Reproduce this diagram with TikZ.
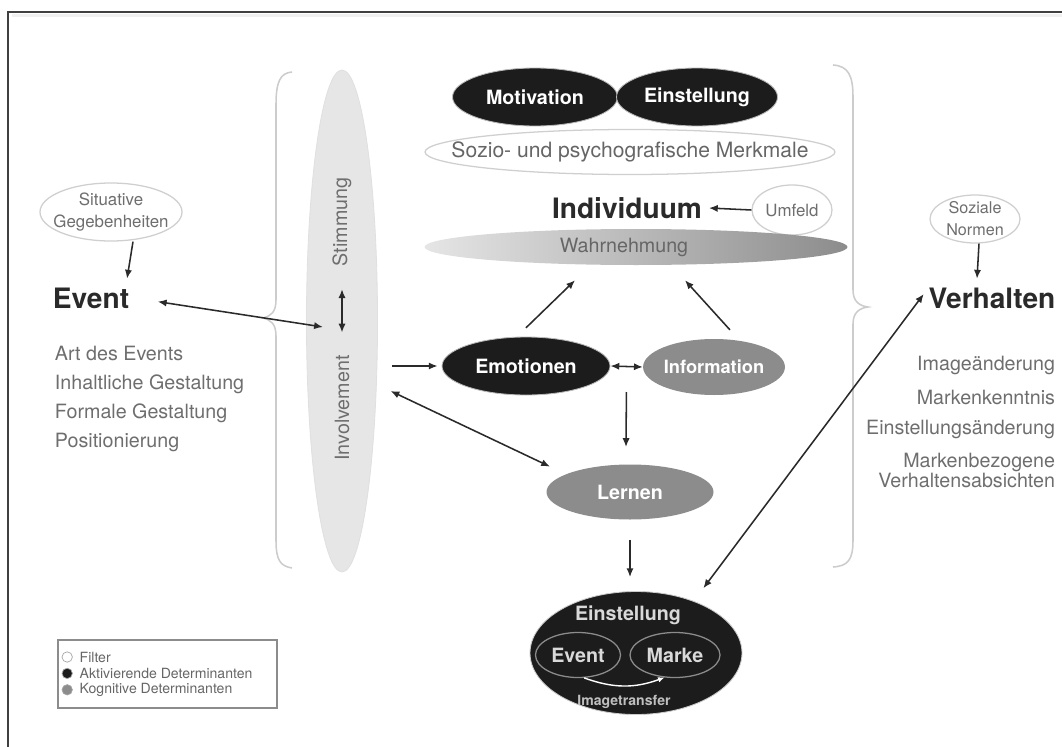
\documentclass[tikz,border=0pt]{standalone}
\usepackage{fontspec}
\setmainfont{TeX Gyre Heros}
\usepackage{tikz}
\usetikzlibrary{arrows.meta,shapes.geometric}
\definecolor{AktivBlack}{HTML}{1C1C1C}
\definecolor{KognGray}{HTML}{8C8C8C}
\definecolor{FilterLine}{HTML}{CFCFCF}
\definecolor{MoodFill}{HTML}{E6E6E6}
\definecolor{TextGray}{HTML}{6E6E6E}
\definecolor{Ink}{HTML}{2A2A2A}
\definecolor{BraceGray}{HTML}{CCCCCC}

\begin{document}
\begin{tikzpicture}[
  filter/.style={ellipse,draw=FilterLine,line width=0.9pt,fill=white,inner sep=0pt},
  aktiv/.style={ellipse,draw=gray!55,line width=0.6pt,fill=AktivBlack,text=white,inner sep=0pt,font=\fontsize{14}{16}\selectfont\bfseries},
  kogn/.style={ellipse,fill=KognGray,text=white,inner sep=0pt,font=\fontsize{14}{16}\selectfont\bfseries},
  small/.style={text=TextGray,font=\fontsize{12}{16}\selectfont,align=center},
  listtxt/.style={text=TextGray,font=\fontsize{14}{20.6}\selectfont},
  head/.style={font=\fontsize{20}{24}\selectfont\bfseries,text=Ink},
  arr/.style={-{Latex[length=2.2mm,width=1.8mm]},line width=1.1pt,draw=Ink},
  darr/.style={{Latex[length=2.2mm,width=1.8mm]}-{Latex[length=2.2mm,width=1.8mm]},line width=1.1pt,draw=Ink},
  brace/.style={draw=BraceGray,line width=1.1pt}
]
\useasboundingbox (0,0) rectangle (26.55,-18.675);

% frame
\draw[line width=2pt,black!6] (0.3,-0.38) -- (26.55,-0.38);
\draw[line width=1.3pt,black!75] (0.2,-18.675) -- (0.2,-0.3) -- (26.55,-0.3);

% braces
\draw[brace] (7.3,-1.8) .. controls (7,-1.825) and (6.9,-2.05) .. (6.9,-2.625) -- (6.9,-7.5)
  .. controls (6.9,-7.8) and (6.775,-7.9) .. (6.575,-7.95) .. controls (6.775,-8) and (6.9,-8.1) .. (6.9,-8.4)
  -- (6.9,-13.5) .. controls (6.9,-14) and (7,-14.15) .. (7.3,-14.2);
\draw[brace] (20.825,-1.625) .. controls (21.2,-1.65) and (21.325,-1.875) .. (21.325,-2.425) -- (21.325,-7.25)
  .. controls (21.325,-7.55) and (21.5,-7.65) .. (21.7,-7.675) .. controls (21.5,-7.7) and (21.325,-7.8) .. (21.325,-8.1)
  -- (21.325,-13.5) .. controls (21.325,-14) and (21.2,-14.15) .. (20.825,-14.175);

% event side
\node[filter,minimum width=3.55cm,minimum height=1.45cm,label={[small]center:Situative\\Gegebenheiten}] (situativ) at (2.775,-5.3) {};
\node[head,anchor=west] (event) at (1.2,-7.45) {Event};
\node[listtxt,align=left,anchor=west] (eventmerkmale) at (1.25,-9.975) {Art des Events\\Inhaltliche Gestaltung\\Formale Gestaltung\\Positionierung};

% mood / involvement
\node[ellipse,fill=MoodFill,draw=black!12,line width=0.6pt,minimum width=1.775cm,minimum height=12.55cm,inner sep=0pt] (mood) at (8.55,-8.025) {};
\node[rotate=90,text=TextGray,font=\fontsize{14}{16}\selectfont] (stimmung) at (8.55,-5.55) {Stimmung};
\node[rotate=90,text=TextGray,font=\fontsize{14}{16}\selectfont] (involvement) at (8.55,-10.2) {Involvement};

% individual
\node[aktiv,minimum width=4.125cm,minimum height=1.45cm] (motivation) at (13.375,-2.425) {Motivation};
\node[aktiv,minimum width=4.025cm,minimum height=1.45cm] (einstellungoben) at (17.425,-2.425) {Einstellung};
\node[filter,minimum width=10.25cm,minimum height=1.125cm,label={[text=black!60,font=\fontsize{15}{17}\selectfont]center:Sozio- und psychografische Merkmale}] (sozio) at (15.75,-3.8) {};
\node[head] (individuum) at (15.675,-5.2) {Individuum};
\node[filter,minimum width=2cm,minimum height=1.25cm,text=TextGray,font=\fontsize{12}{14}\selectfont] (umfeld) at (19.8,-5.25) {Umfeld};
\node[ellipse,left color=black!10,right color=black!45,minimum width=10.575cm,minimum height=0.9cm,inner sep=0pt,label={[xshift=-0.3cm,text=black!60,font=\fontsize{14}{16}\selectfont]center:Wahrnehmung}] (wahrnehmung) at (15.9,-6.175) {};

% processing
\node[aktiv,minimum width=4.2cm,minimum height=1.45cm] (emotionen) at (13.15,-9.15) {Emotionen};
\node[kogn,minimum width=3.45cm,minimum height=1.4cm,font=\fontsize{13}{15}\selectfont\bfseries] (information) at (17.85,-9.175) {Information};
\node[kogn,minimum width=4.175cm,minimum height=1.375cm] (lernen) at (15.75,-12.3) {Lernen};

% attitude
\node[ellipse,fill=AktivBlack,draw=gray!40,line width=0.6pt,minimum width=5.3cm,minimum height=3.075cm,inner sep=0pt] (einstellung) at (15.9,-16.325) {};
\node[text=black!15,font=\fontsize{14}{16}\selectfont\bfseries] (einstellungtxt) at (15.7,-15.375) {Einstellung};
\node[ellipse,draw=black!45,line width=0.9pt,minimum width=2.125cm,minimum height=1.125cm,inner sep=0pt,text=black!15,font=\fontsize{14}{16}\selectfont\bfseries] (eventin) at (14.45,-16.375) {Event};
\node[ellipse,draw=black!45,line width=0.9pt,minimum width=2.25cm,minimum height=1.125cm,inner sep=0pt,text=black!15,font=\fontsize{14}{16}\selectfont\bfseries] (marke) at (16.875,-16.375) {Marke};
\node[text=black!25,font=\fontsize{10}{12}\selectfont\bfseries] (imagetransfer) at (15.6,-17.55) {Imagetransfer};

% behaviour side
\node[filter,minimum width=2.25cm,minimum height=1.2cm,label={[small,font=\fontsize{11.5}{15.6}\selectfont]center:Soziale\\Normen}] (sozial) at (24.375,-5.475) {};
\node[head] (verhalten) at (24.8,-7.45) {Verhalten};
\node[listtxt,align=right,anchor=east,font=\fontsize{14}{12}\selectfont] (wirkungen) at (26.5,-10.55) {Imageänderung\\[10pt]Markenkenntnis\\[9pt]Einstellungsänderung\\[9.5pt]Markenbezogene\\Verhaltensabsichten};

% legend
\draw[draw=black!45,line width=0.8pt] (1.45,-16) rectangle (6.925,-17.7);
\foreach \farbe/\text [count=\i] in {white/Filter,AktivBlack/Aktivierende Determinanten,KognGray/Kognitive Determinanten}{
  \node[circle,fill=\farbe,draw=black!35,line width=0.5pt,minimum size=0.26cm,inner sep=0pt] (key\i) at (1.68,-16.425-0.41*\i+0.41) {};
  \node[anchor=west,text=black!60,font=\fontsize{10}{12}\selectfont,inner sep=1pt] (keytxt\i) at (1.95,-16.425-0.41*\i+0.41) {\text};
}

% connectors
\draw[arr] ([xshift=0.55cm]situativ.south) -- ([xshift=0.9cm,yshift=0.1cm]event.north);
\draw[darr,shorten <=0.6cm] (event.east) -- ([xshift=-1.375cm,yshift=-0.15cm]mood.east);
\draw[darr,shorten <=0.45cm,shorten >=0.45cm] (stimmung.west) -- (involvement.east);
\draw[arr,shorten <=0.35cm,shorten >=0.1cm] (mood.east |- emotionen.west) -- (emotionen.west);
\draw[darr,shorten <=0.35cm] ([yshift=-1.6cm]mood.east) -- ([xshift=-2cm,yshift=-0.06cm]lernen.north);
\draw[darr] (emotionen.east) -- (information.west);
\draw[arr] ([yshift=0.22cm]emotionen.north) -- ([xshift=-1.525cm,yshift=-0.375cm]wahrnehmung.south);
\draw[arr] ([xshift=0.4cm,yshift=0.22cm]information.north) -- ([xshift=1.225cm,yshift=-0.375cm]wahrnehmung.south);
\draw[arr] (umfeld.west) -- ([xshift=0.05cm]individuum.east);
\draw[arr] ([xshift=0.4cm,yshift=-0.65cm]emotionen.east) -- ([xshift=-0.1cm,yshift=0.43cm]lernen.north);
\draw[arr,shorten <=0.5cm,shorten >=0.35cm] (lernen.south) -- (lernen.south |- einstellung.north);
\draw[darr,shorten <=0.4cm] (einstellung.42) -- ([yshift=0.1cm]verhalten.west);
\draw[arr] ([xshift=0.1cm]sozial.south) -- ([xshift=-0.375cm,yshift=0.1cm]verhalten.north);
\draw[white,line width=1pt,-{Latex[length=1.6mm,width=1.4mm]}] (eventin.-75) to[out=-20,in=200] (marke.-115);
\end{tikzpicture}
\end{document}
